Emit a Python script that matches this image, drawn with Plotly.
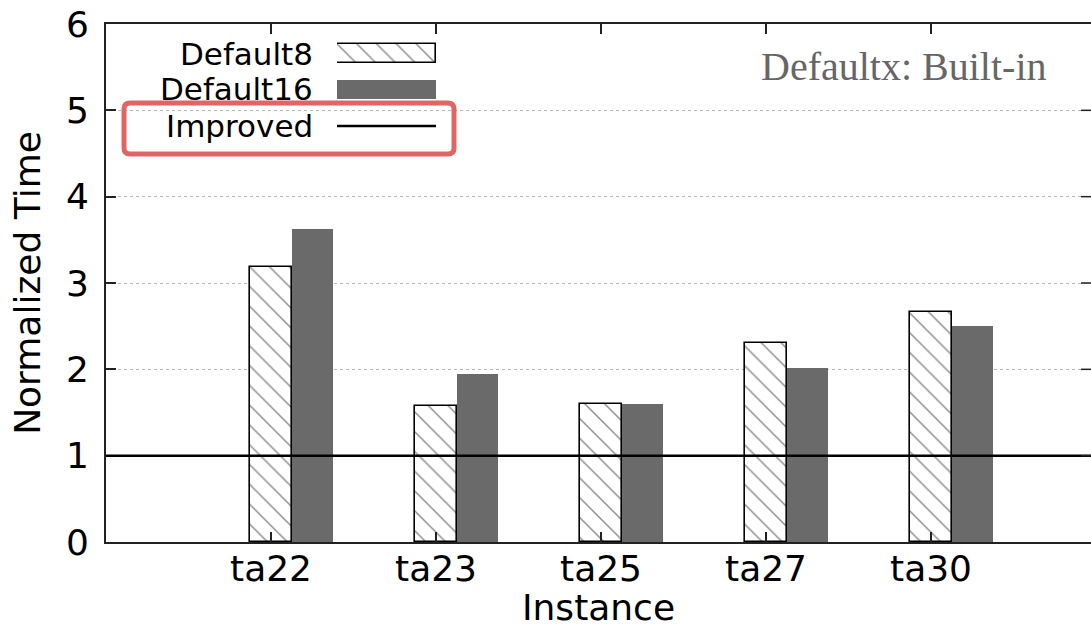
import plotly.graph_objects as go

# ---- data ----
categories = ["ta22", "ta23", "ta25", "ta27", "ta30"]
default8 = [3.19, 1.57, 1.60, 2.30, 2.66]
default16 = [3.62, 1.95, 1.60, 2.01, 2.50]
improved_level = 1.0
y_ticks = [0, 1, 2, 3, 4, 5, 6]
series_names = ["Default8", "Default16", "Improved"]

# ---- layout constants ----
W, H = 1091, 628
ML, MT, MB, MR = 106, 24, 86, 0
PW = W - ML - MR
PH = H - MT - MB
PX_PER_CAT = 165.0
x_range = [-1, -1 + PW / PX_PER_CAT]
BAR_W = 0.25

idx = list(range(len(categories)))
FONT = "DejaVu Sans"
HATCH = dict(shape="\\", size=14, solidity=0.1, fgcolor="#111111", bgcolor="white")
DARK = "#6a6a6a"

fig = go.Figure()

fig.add_trace(go.Bar(
    x=idx, y=default8, width=BAR_W, offset=-BAR_W / 2, name=series_names[0],
    marker=dict(color="white", pattern=HATCH, line=dict(color="black", width=1.6)),
    showlegend=False, xaxis="x", yaxis="y"))
fig.add_trace(go.Bar(
    x=idx, y=default16, width=BAR_W, offset=BAR_W / 2, name=series_names[1],
    marker=dict(color=DARK, line=dict(width=0)),
    showlegend=False, xaxis="x", yaxis="y"))

fig.add_hline(y=improved_level, line=dict(color="black", width=2.5), layer="above")

# ---- custom legend (text left, key right), keys drawn on an overlay axis ----
def px_to_y(py):
    return (MT + PH - py) / PH * (y_ticks[-1] - y_ticks[0])

def fx(p): return (p - ML) / PW
def fy(p): return (MT + PH - p) / PH

key_x0, key_x1 = 337, 436
key_dom = [fx(key_x0), fx(key_x1)]
leg_rows_py = [53.5, 89.5, 126]
key_h = 19 / PH * (y_ticks[-1] - y_ticks[0])

fig.add_trace(go.Bar(
    x=[1], y=[px_to_y(leg_rows_py[0])], base=0, width=key_h, orientation="h",
    marker=dict(color="white", pattern=HATCH, line=dict(color="black", width=1.6)),
    showlegend=False, xaxis="x2", yaxis="y2", hoverinfo="skip"))
fig.add_trace(go.Bar(
    x=[1], y=[px_to_y(leg_rows_py[1])], base=0, width=key_h, orientation="h",
    marker=dict(color=DARK, line=dict(width=0)),
    showlegend=False, xaxis="x2", yaxis="y2", hoverinfo="skip"))
fig.add_trace(go.Scatter(
    x=[0, 1], y=[px_to_y(leg_rows_py[2])] * 2, mode="lines",
    line=dict(color="black", width=2.5),
    showlegend=False, xaxis="x2", yaxis="y2", hoverinfo="skip"))

text_right = fx(314)
for name, py in zip(series_names, [54, 89, 126]):
    fig.add_annotation(x=text_right, y=px_to_y(py), xref="paper", yref="y",
                       text=name, showarrow=False, xanchor="right", yanchor="middle",
                       borderpad=0,
                       font=dict(family=FONT, size=31, color="black"))

# red rounded highlight box around "Improved"
bx0, bx1, by0, by1, r = 124, 454, 103, 154, 6
path = (f"M {fx(bx0 + r)},{fy(by0)} L {fx(bx1 - r)},{fy(by0)} "
        f"Q {fx(bx1)},{fy(by0)} {fx(bx1)},{fy(by0 + r)} "
        f"L {fx(bx1)},{fy(by1 - r)} Q {fx(bx1)},{fy(by1)} {fx(bx1 - r)},{fy(by1)} "
        f"L {fx(bx0 + r)},{fy(by1)} Q {fx(bx0)},{fy(by1)} {fx(bx0)},{fy(by1 - r)} "
        f"L {fx(bx0)},{fy(by0 + r)} Q {fx(bx0)},{fy(by0)} {fx(bx0 + r)},{fy(by0)} Z")
fig.add_shape(type="path", path=path, xref="paper", yref="paper",
              line=dict(color="#e06666", width=5), layer="above")

# right-side mirror ticks (plot border lies beyond the image edge)
for t in y_ticks[1:-1]:
    fig.add_shape(type="line", xref="paper", yref="y", x0=1 - 10 / PW, x1=1,
                  y0=t, y1=t, line=dict(color="#222222", width=1.5))

fig.add_annotation(x=fx(904), y=fy(67), xref="paper", yref="paper", text="Defaultx: Built-in",
                   showarrow=False, xanchor="center", yanchor="middle",
                   font=dict(family="Liberation Serif", size=40, color="#666666"))

fig.update_layout(
    width=W, height=H,
    margin=dict(l=ML, r=MR, t=MT, b=MB),
    paper_bgcolor="white", plot_bgcolor="rgba(0,0,0,0)",
    barmode="overlay", bargap=0,
    font=dict(family=FONT, size=36, color="black"),
    xaxis=dict(range=x_range, tickvals=idx, ticktext=categories,
               ticks="inside", ticklen=10, tickwidth=1.5, tickcolor="#222222",
               showline=True, linecolor="#222222", linewidth=2, mirror="ticks",
               showgrid=False, zeroline=False, ticklabelstandoff=-6,
               tickfont=dict(family=FONT, size=36),
               title=dict(text="Instance", font=dict(family=FONT, size=36), standoff=2)),
    yaxis=dict(range=[y_ticks[0], y_ticks[-1]], tickvals=y_ticks,
               ticks="inside", ticklen=10, tickwidth=1.5, tickcolor="#222222",
               showline=True, linecolor="#222222", linewidth=2,
               showgrid=True, gridcolor="#b8b8b8", griddash="dot", gridwidth=1,
               zeroline=False, ticklabelstandoff=8,
               tickfont=dict(family=FONT, size=36),
               title=dict(text="Normalized Time", font=dict(family=FONT, size=36), standoff=14)),
    xaxis2=dict(domain=key_dom, range=[0, 1], anchor="y2", visible=False),
    yaxis2=dict(domain=[0, 1], range=[y_ticks[0], y_ticks[-1]], anchor="x2", visible=False),
)

fig.write_html("out.html")
